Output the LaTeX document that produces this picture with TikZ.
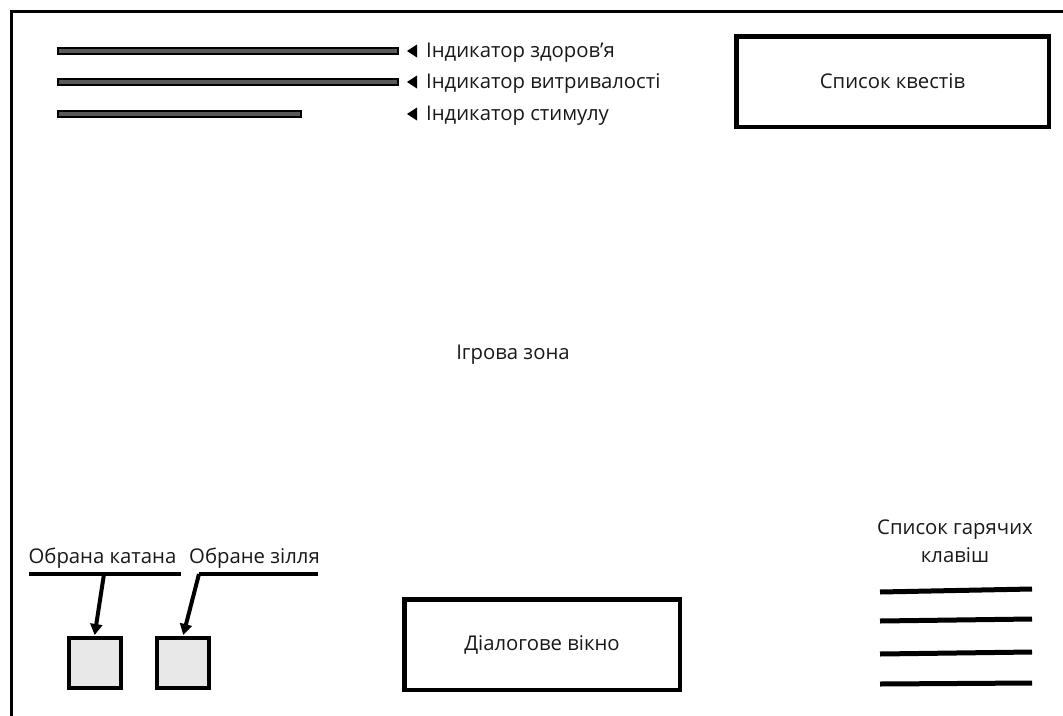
\documentclass[tikz,border=0pt]{standalone}
\usepackage{fontspec}
\setmainfont{Open Sans}
\usetikzlibrary{arrows.meta}
\begin{document}
\begin{tikzpicture}[x=1pt,y=-1pt,
  every node/.style={font=\fontsize{20.3}{28}\selectfont, text=black!90},
  frame/.style={draw, line width=3pt, inner sep=0pt, anchor=north west},
  bar/.style={draw, line width=1.6pt, fill=black!65, minimum height=5.5pt, inner sep=0pt, anchor=west},
  marker/.style={fill=black},
  box/.style={draw, line width=4.5pt, minimum width=275.5pt, minimum height=90.5pt, inner sep=0pt},
  slot/.style={draw, line width=4pt, fill=black!9, minimum width=52pt, minimum height=50pt, inner sep=0pt},
  lbl/.style={anchor=base west, inner sep=0pt},
  under/.style={line width=4pt},
  pointer/.style={line width=4pt, -{Triangle[length=11pt,width=12pt]}, shorten >=1pt},
  hk/.style={line width=5pt}
]
\useasboundingbox (0,0) rectangle (1063,715);
\clip (0,0) rectangle (1063,715);
\fill[white] (0,0) rectangle (1063,715);
% outer frame (game area)
\node[frame, minimum width=1200pt, minimum height=800pt] (game) at (10,10) {};
\node (zone) at (513,355) {Ігрова зона};
% indicator bars
\node[bar, minimum width=340pt] (hp) at (57,51) {};
\node[bar, minimum width=340pt] (st) at (57,82) {};
\node[bar, minimum width=243pt] (stim) at (57,114) {};
\fill[marker] (417,44.5) -- (417,57.5) -- (407,51) -- cycle;
\fill[marker] (417,75.5) -- (417,88.5) -- (407,82) -- cycle;
\fill[marker] (417,107.5) -- (417,120.5) -- (407,114) -- cycle;
\node[lbl] (hpl) at (426,57) {Індикатор здоров’я};
\node[lbl] (stl) at (426,88.5) {Індикатор витривалості};
\node[lbl] (stiml) at (426,120.5) {Індикатор стимулу};
% quest list
\node[box, minimum width=312.5pt] (quests) at (892.5,81.5) {Список квестів};
% dialog window
\node[box] (dialog) at (542,644.5) {Діалогове вікно};
% selected items
\node[slot] (katana) at (94.5,663) {};
\node[slot] (potion) at (183,663) {};
\node[anchor=base, inner sep=0pt] (katanal) at (102.5,563) {Обрана катана};
\node[anchor=base, inner sep=0pt] (potionl) at (254.5,563) {Обране зілля};
\coordinate (u1a) at (29,574);
\coordinate (u1b) at (181,574);
\coordinate (u2a) at (199,574);
\coordinate (u2b) at (318,574);
\draw[under] (u1a) -- (u1b);
\draw[under] (u2a) -- (u2b);
\coordinate (k0) at (104,574);
\draw[pointer] (k0) -- (katana.north);
\draw[pointer] (u2a) -- (potion.north);
% hotkeys
\node[align=center, inner sep=0pt, anchor=base] (hot) at (955,562) {Список гарячих\\клавіш};
\draw[hk] (880,592) -- (1032,589);
\draw[hk] (880,621) -- (1032,619);
\draw[hk] (880,654) -- (1032,652);
\draw[hk] (880,684) -- (1032,683);
\end{tikzpicture}
\end{document}
